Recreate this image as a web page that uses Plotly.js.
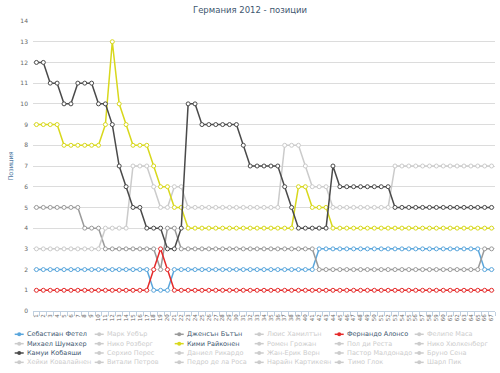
<!DOCTYPE html>
<html><head><meta charset="utf-8">
<script src="https://cdn.plot.ly/plotly-3.0.1.min.js"></script>
<style>html,body{margin:0;padding:0;background:#fff;}#chart{width:500px;height:373px;}</style>
</head><body><div id="chart"></div>
<script>
const laps = [1,2,3,4,5,6,7,8,9,10,11,12,13,14,15,16,17,18,19,20,21,22,23,24,25,26,27,28,29,30,31,32,33,34,35,36,37,38,39,40,41,42,43,44,45,46,47,48,49,50,51,52,53,54,55,56,57,58,59,60,61,62,63,64,65,66,67];

const drivers = [
  'Себастиан Фетел','Марк Уебър','Дженсън Бътън','Люис Хамилтън','Фернандо Алонсо','Фелипе Маса',
  'Михаел Шумахер','Нико Розберг','Кими Райконен','Ромен Грожан','Пол ди Реста','Нико Хюлкенберг',
  'Камуи Кобаяши','Серхио Перес','Даниел Рикардо','Жан-Ерик Верн','Пастор Малдонадо','Бруно Сена',
  'Хейки Ковалайнен','Витали Петров','Педро де ла Роса','Нарайн Картикеян','Тимо Глок','Шарл Пик'
];

const vettel = [2,2,2,2,2,2,2,2,2,2, 2,2,2,2,2,2,2,1,1,1, 2,2,2,2,2,2,2,2,2,2, 2,2,2,2,2,2,2,2,2,2, 2,3,3,3,3,3,3,3,3,3, 3,3,3,3,3,3,3,3,3,3, 3,3,3,3,3,2,2];
const button = [5,5,5,5,5,5,5,4,4,4, 3,3,3,3,3,3,3,3,2,4, 4,3,3,3,3,3,3,3,3,3, 3,3,3,3,3,3,3,3,3,3, 3,2,2,2,2,2,2,2,2,2, 2,2,2,2,2,2,2,2,2,2, 2,2,2,2,2,3,3];
const alonso = [1,1,1,1,1,1,1,1,1,1, 1,1,1,1,1,1,1,2,3,2, 1,1,1,1,1,1,1,1,1,1, 1,1,1,1,1,1,1,1,1,1, 1,1,1,1,1,1,1,1,1,1, 1,1,1,1,1,1,1,1,1,1, 1,1,1,1,1,1,1];
const schumacher = [3,3,3,3,3,3,3,3,3,3, 4,4,4,4,7,7,7,6,5,5, 6,6,5,5,5,5,5,5,5,5, 5,5,5,5,5,5,8,8,8,7, 6,6,6,5,5,5,5,5,5,5, 5,5,7,7,7,7,7,7,7,7, 7,7,7,7,7,7,7];
const raikkonen = [9,9,9,9,8,8,8,8,8,8, 9,13,10,9,8,8,8,7,6,6, 5,5,4,4,4,4,4,4,4,4, 4,4,4,4,4,4,4,4,6,6, 5,5,5,4,4,4,4,4,4,4, 4,4,4,4,4,4,4,4,4,4, 4,4,4,4,4,4,4];
const kobayashi = [12,12,11,11,10,10,11,11,11,10, 10,9,7,6,5,5,4,4,4,3, 3,4,10,10,9,9,9,9,9,9, 8,7,7,7,7,7,6,5,4,4, 4,4,4,7,6,6,6,6,6,6, 6,6,5,5,5,5,5,5,5,5, 5,5,5,5,5,5,5];

const yTicks = [0,1,2,3,4,5,6,7,8,9,10,11,12,13,14];

const shown = [
  {name:'Себастиан Фетел', y:vettel, color:'#5aa6dc'},
  {name:'Дженсън Бътън', y:button, color:'#9a9a9a'},
  {name:'Фернандо Алонсо', y:alonso, color:'#e52a2a'},
  {name:'Михаел Шумахер', y:schumacher, color:'#cbcbcb'},
  {name:'Кими Райконен', y:raikkonen, color:'#d8d81c'},
  {name:'Камуи Кобаяши', y:kobayashi, color:'#4a4a4a'}
];

const traces = shown.map(s => ({
  type:'scatter', mode:'lines+markers', name:s.name, x:laps, y:s.y,
  line:{color:s.color, width:1.5},
  marker:{symbol:'circle', size:4, color:'#ffffff', line:{color:s.color, width:1}},
  showlegend:false, hoverinfo:'x+y+name'
}));

// geometry for custom legend (layout only)
const L=33, T=21, W=462, H=290;
const px2x = px => (px - L)/W;
const py2y = py => (T + H - py)/H;

const annotations = [];
const shapes = [];
drivers.forEach((d,i) => {
  const row = Math.floor(i/6), col = i%6;
  const tx = 26.7 + 80*col;
  const ty = 334.3 + 9.35*row;
  const s = shown.find(o => o.name === d);
  const symColor = s ? s.color : '#cccccc';
  const txtColor = s ? '#3e576f' : '#cccccc';
  annotations.push({
    xref:'paper', yref:'paper', x:px2x(tx-2), y:py2y(ty), xanchor:'left', yanchor:'middle',
    text:d, showarrow:false, font:{family:'DejaVu Sans, Verdana, sans-serif', size:6.5, color:txtColor}
  });
  shapes.push({type:'line', xref:'paper', yref:'paper', x0:px2x(tx-12), x1:px2x(tx-3), y0:py2y(ty), y1:py2y(ty), line:{color:symColor, width:1.5}});
  shapes.push({type:'circle', xref:'paper', yref:'paper', x0:px2x(tx-9.5), x1:px2x(tx-5.5), y0:py2y(ty+2), y1:py2y(ty-2), fillcolor:symColor, line:{color:symColor, width:0}});
});

const layout = {
  width:500, height:373,
  margin:{l:L, r:5, t:T, b:373-T-H, pad:0},
  paper_bgcolor:'#ffffff', plot_bgcolor:'#ffffff',
  font:{family:'DejaVu Sans, Verdana, sans-serif', size:6, color:'#666666'},
  title:{text:'Германия 2012 - позиции', font:{size:8.5, color:'#3e576f'}, x:0.5, xref:'container', xanchor:'center', y:1-10.5/373, yref:'container', yanchor:'middle'},
  showlegend:false,
  xaxis:{type:'category', range:[-0.5,66.5], tickmode:'linear', tick0:0, dtick:1, tickangle:-90,
    tickfont:{size:5.5, color:'#666666'}, ticks:'outside', tickson:'boundaries', ticklen:4, tickcolor:'#c0d0e0',
    showline:true, linecolor:'#c0d0e0', linewidth:1, showgrid:false, zeroline:false, automargin:false, fixedrange:true},
  yaxis:{range:[0,14], tickmode:'array', tickvals:yTicks, ticktext:yTicks.map(String), showgrid:true, gridcolor:'#dcdcdc', gridwidth:1,
    zeroline:false, showline:false, ticks:'', tickfont:{size:6, color:'#666666'}, ticklabelstandoff:4,
    title:{text:'Позиция', font:{size:6.5, color:'#4d759e'}, standoff:6}, automargin:false, fixedrange:true},
  annotations:annotations, shapes:shapes
};

Plotly.newPlot('chart', traces, layout, {displayModeBar:false, staticPlot:true});
</script>
</body></html>
